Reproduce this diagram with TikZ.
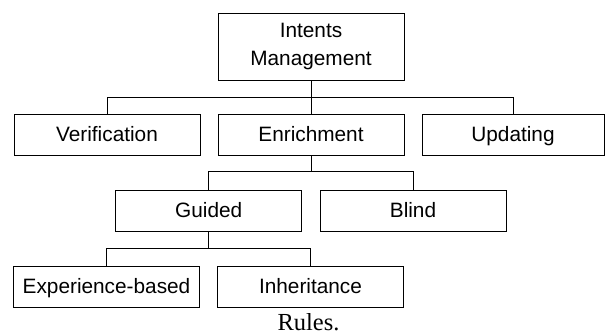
\documentclass[tikz,border=0pt]{standalone}
\usepackage{fontspec}
\setmainfont{Liberation Serif}
\newfontfamily\arialf{Liberation Sans}
\begin{document}
\begin{tikzpicture}[x=1pt,y=-1pt,
  box/.style={draw, line width=1pt, minimum width=186pt, minimum height=41pt, inner sep=0pt,
    font=\arialf\fontsize{20.8}{27.7}\selectfont, text height=17.8pt, text depth=5pt},
  conn/.style={line width=1pt}]
\useasboundingbox (0,0) rectangle (605,335);
\node[box, minimum height=66.7pt, text height=, text depth=, align=center] (im) at (311,46.7) {Intents\\Management};
\node[box] (ver) at (107,135.3) {Verification};
\node[box] (enr) at (311,135.3) {Enrichment};
\node[box, minimum width=182pt] (upd) at (513,135.3) {Updating};
\node[box] (gui) at (208.7,211) {Guided};
\node[box] (bli) at (413,211) {Blind};
\node[box] (exp) at (106.5,287) {Experience-based};
\node[box] (inh) at (310.5,287) {Inheritance};
\node[anchor=base, inner sep=0pt, font=\fontsize{24.5}{28}\selectfont] (cap) at (308.5,330.3) {Rules.};
\draw[conn] (ver.north) -- ++(0,-17.3) coordinate (b1) -| (upd.north);
\draw[conn] (im.south) -- (enr.north);
\draw[conn] (gui.north) -- ++(0,-18.7) coordinate (b2) -| (bli.north);
\draw[conn] (enr.south) -- (enr.south |- b2);
\draw[conn] (exp.north) -- ++(0,-17.7) coordinate (b3) -| (inh.north);
\draw[conn] (gui.south) -- (gui.south |- b3);
\end{tikzpicture}
\end{document}
